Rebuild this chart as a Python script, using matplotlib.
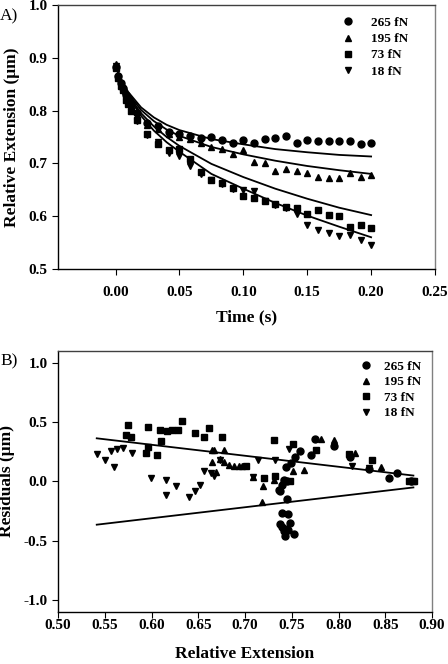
import matplotlib
matplotlib.use("Agg")
import matplotlib.pyplot as plt
import numpy as np

plt.rcParams["font.family"] = ["Liberation Serif", "DejaVu Serif"]
plt.rcParams["font.weight"] = "bold"
plt.rcParams["axes.unicode_minus"] = False

# ---- panel A: relaxation traces ----
time_s = [0.0, 0.002, 0.004, 0.006, 0.008, 0.010, 0.0125, 0.0167,
          0.025, 0.0333, 0.0417, 0.05, 0.0583, 0.0667, 0.075, 0.0833,
          0.0917, 0.1, 0.1083, 0.1167, 0.125, 0.1333, 0.1417, 0.15,
          0.1583, 0.1667, 0.175, 0.1833, 0.1917, 0.2]

ext_265 = [0.882, 0.865, 0.852, 0.842, 0.830, 0.820, 0.812, 0.795,
           0.776, 0.770, 0.759, 0.755, 0.752, 0.748, 0.750, 0.744,
           0.739, 0.745, 0.738, 0.746, 0.748, 0.752, 0.739, 0.745,
           0.743, 0.742, 0.743, 0.743, 0.737, 0.739]
ext_195 = [0.888, 0.868, 0.855, 0.843, 0.828, 0.817, 0.808, 0.790,
           0.772, 0.765, 0.755, 0.750, 0.746, 0.739, 0.731, 0.728,
           0.717, 0.726, 0.703, 0.700, 0.686, 0.690, 0.686, 0.682,
           0.675, 0.673, 0.673, 0.681, 0.675, 0.678]
ext_73 = [0.880, 0.862, 0.847, 0.838, 0.820, 0.812, 0.800, 0.783,
          0.755, 0.736, 0.725, 0.728, 0.709, 0.684, 0.668, 0.663,
          0.653, 0.638, 0.635, 0.629, 0.623, 0.618, 0.615, 0.604,
          0.612, 0.602, 0.601, 0.580, 0.584, 0.577]
ext_18 = [0.885, 0.860, 0.850, 0.835, 0.825, 0.815, 0.803, 0.780,
          0.753, 0.740, 0.720, 0.714, 0.695, 0.680, 0.668, 0.660,
          0.652, 0.650, 0.647, 0.628, 0.621, 0.615, 0.604, 0.584,
          0.574, 0.568, 0.563, 0.565, 0.555, 0.546]

# fitted curves, sampled off the figure
fit_t = [0.0, 0.005, 0.01, 0.02, 0.03, 0.04, 0.05, 0.075, 0.1, 0.125, 0.15, 0.175, 0.2]
fit_265 = [0.885, 0.855, 0.835, 0.806, 0.787, 0.773, 0.763, 0.746, 0.736, 0.727, 0.721, 0.716, 0.713]
fit_195 = [0.885, 0.853, 0.832, 0.801, 0.780, 0.764, 0.752, 0.731, 0.717, 0.705, 0.695, 0.687, 0.680]
fit_73 = [0.885, 0.852, 0.829, 0.795, 0.770, 0.750, 0.733, 0.699, 0.674, 0.652, 0.633, 0.616, 0.602]
fit_18 = [0.885, 0.850, 0.826, 0.790, 0.762, 0.740, 0.722, 0.680, 0.652, 0.625, 0.601, 0.580, 0.560]

# ---- panel B: residuals ----
res_265_x = [0.7448, 0.7358, 0.7400, 0.7448, 0.744, 0.749, 0.7537, 0.7584, 0.7705, 0.7752,
             0.7948, 0.8119, 0.8322, 0.8537, 0.8626, 0.877, 0.7395, 0.746, 0.737, 0.740,
             0.7431, 0.7484, 0.746, 0.7412, 0.752, 0.7431, 0.7377, 0.7420]
res_265_y = [-0.146, -0.07, -0.03, 0.0, 0.126, 0.154, 0.204, 0.255, 0.227, 0.358,
             0.302, 0.204, 0.107, 0.031, 0.073, 0.0, -0.266, -0.272, -0.356, -0.384,
             -0.398, -0.347, -0.412, -0.418, -0.44, -0.46, -0.076, 0.01]
res_195_x = [0.6645, 0.667, 0.678, 0.6645, 0.669, 0.673, 0.677, 0.6823, 0.6877, 0.693,
             0.6967, 0.7085, 0.718, 0.719, 0.7305, 0.7513, 0.7627, 0.7812, 0.7948, 0.818,
             0.8455, 0.880]
res_195_y = [0.266, 0.266, 0.266, 0.162, 0.08, 0.19, 0.162, 0.143, 0.132, 0.132,
             0.132, 0.036, -0.176, -0.034, 0.014, 0.088, 0.1, 0.358, 0.35, 0.24,
             0.12, 0.0]
res_73_x = [0.5753, 0.5725, 0.578, 0.5967, 0.5957, 0.594, 0.6057, 0.6092, 0.61, 0.6164,
            0.6224, 0.6288, 0.6324, 0.6467, 0.6566, 0.6617, 0.6752, 0.701, 0.7205, 0.7305,
            0.7323, 0.742, 0.7477, 0.7509, 0.7762, 0.8108, 0.8358, 0.875, 0.8803]
res_73_y = [0.479, 0.392, 0.378, 0.462, 0.288, 0.238, 0.224, 0.437, 0.339, 0.429,
            0.437, 0.437, 0.513, 0.409, 0.378, 0.451, 0.378, 0.132, 0.028, 0.35,
            0.045, 0.008, 0.0, 0.313, 0.266, 0.233, 0.182, 0.003, 0.003]
res_18_x = [0.542, 0.550, 0.557, 0.560, 0.563, 0.569, 0.579, 0.599, 0.615, 0.616,
            0.626, 0.640, 0.647, 0.652, 0.656, 0.664, 0.667, 0.673, 0.7085, 0.714,
            0.732, 0.747, 0.814, 0.832, 0.878]
res_18_y = [0.23, 0.18, 0.26, 0.12, 0.27, 0.28, 0.24, 0.03, 0.01, -0.11,
            -0.04, -0.13, -0.08, -0.03, 0.09, 0.07, 0.05, 0.18, 0.036, 0.18,
            0.18, 0.27, 0.13, 0.11, 0.0]

bound_x = [0.5414, 0.880]
bound_upper = [0.364, 0.05]
bound_lower = [-0.364, -0.05]

labels = ["265 fN", "195 fN", "73 fN", "18 fN"]
markers = ["o", "^", "s", "v"]

fig = plt.figure(figsize=(4.48, 6.64), dpi=100)
axA = fig.add_axes([0.1295, 0.595, 0.8415, 0.3975])
axB = fig.add_axes([0.1295, 0.0783, 0.8350, 0.3931])

ms = 5
for y, m, lab in zip([ext_265, ext_195, ext_73, ext_18], markers, labels):
    axA.plot(time_s, y, m, color="black", markersize=ms, linestyle="none", label=lab)
for f in [fit_265, fit_195, fit_73, fit_18]:
    axA.plot(fit_t, f, color="black", linewidth=1.3)

axA.set_xlim(-0.045, 0.25)
axA.set_ylim(0.5, 1.0)
axA.set_xticks(np.arange(0, 0.26, 0.05))
axA.set_yticks(np.arange(0.5, 1.01, 0.1))
axA.xaxis.set_major_formatter(matplotlib.ticker.FormatStrFormatter("%.2f"))
axA.yaxis.set_major_formatter(matplotlib.ticker.FormatStrFormatter("%.1f"))
axA.set_xlabel("Time (s)", fontsize=12.5, fontweight="bold", labelpad=8)
axA.set_ylabel("Relative Extension (\u03bcm)", fontsize=12.5, fontweight="bold", labelpad=6)

for xs, ys, m, lab in zip([res_265_x, res_195_x, res_73_x, res_18_x],
                          [res_265_y, res_195_y, res_73_y, res_18_y], markers, labels):
    axB.plot(xs, ys, m, color="black", markersize=ms, linestyle="none", label=lab)
axB.plot(bound_x, bound_upper, color="black", linewidth=1.3)
axB.plot(bound_x, bound_lower, color="black", linewidth=1.3)

axB.set_xlim(0.5, 0.9)
axB.set_ylim(-1.1, 1.1)
axB.set_xticks(np.arange(0.5, 0.91, 0.05))
axB.set_yticks(np.arange(-1.0, 1.01, 0.5))
axB.xaxis.set_major_formatter(matplotlib.ticker.FormatStrFormatter("%.2f"))
axB.yaxis.set_major_formatter(matplotlib.ticker.FormatStrFormatter("%.1f"))
axB.set_xlabel("Relative Extension", fontsize=12.5, fontweight="bold", labelpad=10)
axB.set_ylabel("Residuals (\u03bcm)", fontsize=12.5, fontweight="bold", labelpad=6)

for ax in [axA, axB]:
    ax.tick_params(axis="both", which="major", direction="out", length=4,
                   labelsize=11, top=False, right=False)
    for lbl in ax.get_xticklabels() + ax.get_yticklabels():
        lbl.set_fontweight("bold")
    for sp in ax.spines.values():
        sp.set_linewidth(1.0)
    ax.spines["right"].set_color("#808080")
    ax.spines["top"].set_color("#404040")

axA.tick_params(axis="x", pad=8)
axB.tick_params(axis="x", pad=1)

axA.legend(loc="upper right", bbox_to_anchor=(0.93, 0.955), frameon=False,
           handletextpad=1.0, handlelength=1.5, labelspacing=0.3,
           borderaxespad=0, borderpad=0, prop={"weight": "bold", "size": 9.5})
axB.legend(loc="upper right", bbox_to_anchor=(0.97, 0.963), frameon=False,
           handletextpad=0.6, handlelength=1.5, labelspacing=0.25,
           borderaxespad=0, borderpad=0, prop={"weight": "bold", "size": 9.5})

fig.text(0.0, 0.975, "A)", fontsize=12.5, fontweight="normal", va="center")
fig.text(0.0, 0.455, "B)", fontsize=12.5, fontweight="normal", va="center")

fig.savefig("out.png", dpi=100)
